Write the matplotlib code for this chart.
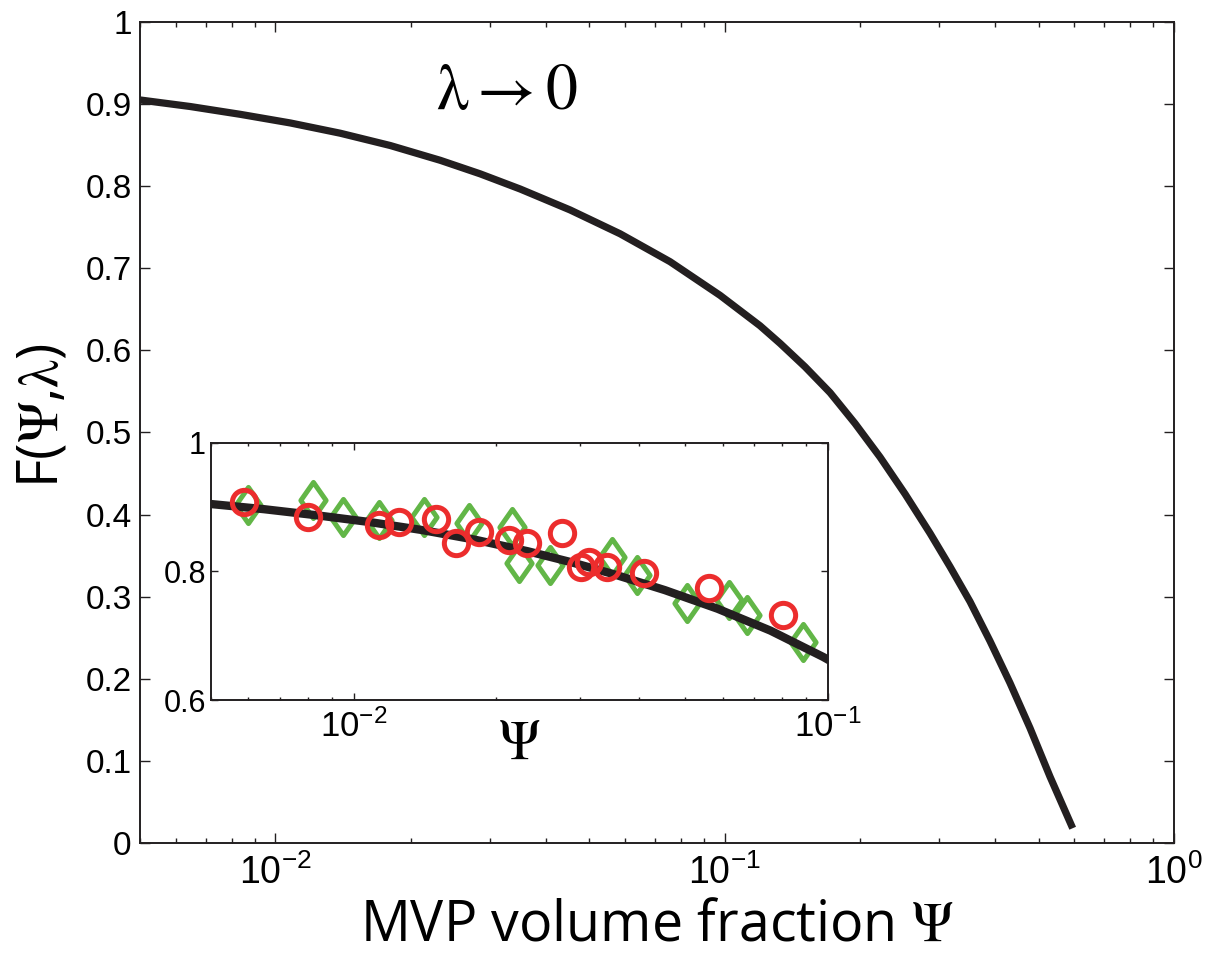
import numpy as np
import matplotlib
matplotlib.use("Agg")
import matplotlib.pyplot as plt
from matplotlib.path import Path
from matplotlib.ticker import LogLocator, FixedLocator, FuncFormatter, NullFormatter

plt.rcParams['mathtext.fontset'] = 'stix'
plt.rcParams['font.family'] = ['Liberation Sans', 'DejaVu Sans']

# main curve F(psi, lambda -> 0)
psi_curve = [0.005, 0.00647, 0.00836, 0.0108, 0.01395, 0.01803, 0.02329, 0.02858,
             0.03509, 0.04532, 0.05854, 0.07563, 0.09772, 0.1199, 0.1329, 0.151,
             0.1717, 0.1951, 0.2218, 0.2522, 0.2866, 0.3175, 0.3517, 0.3896,
             0.4316, 0.4783, 0.5297, 0.5952]
F_curve = [0.905, 0.897, 0.8875, 0.877, 0.8645, 0.8495, 0.8315, 0.815,
           0.7965, 0.771, 0.742, 0.708, 0.667, 0.630, 0.6085, 0.580,
           0.5485, 0.511, 0.470, 0.425, 0.3772, 0.3365, 0.294, 0.246,
           0.195, 0.140, 0.081, 0.018]

# inset data (green diamonds)
psi_green = [0.0060, 0.0082, 0.00948, 0.01132, 0.01408, 0.01751, 0.0216, 0.0223,
             0.02594, 0.0351, 0.0396, 0.0505, 0.0618, 0.0675, 0.0888]
F_green = [0.9035, 0.9113, 0.8853, 0.8802, 0.8853, 0.875, 0.8697, 0.8132,
           0.8101, 0.823, 0.7946, 0.7505, 0.7556, 0.7323, 0.6907]

# inset data (red circles)
psi_red = [0.00589, 0.0080, 0.01132, 0.01247, 0.0149, 0.01641, 0.01838, 0.02126,
           0.02324, 0.02754, 0.0301, 0.0313, 0.03424, 0.0409, 0.05606, 0.0804]
F_red = [0.9086, 0.8853, 0.8724, 0.8775, 0.8812, 0.8439, 0.862, 0.849,
         0.8439, 0.8594, 0.8075, 0.8153, 0.8075, 0.7972, 0.7739, 0.7323]

main_yticks = [0, 0.1, 0.2, 0.3, 0.4, 0.5, 0.6, 0.7, 0.8, 0.9, 1]
inset_yticks = [0.6, 0.8, 1]

curve_color = '#231f20'
green = '#62b647'
red = '#ec2d2d'

diamond = Path([(0, 1), (0.7, 0), (0, -1), (-0.7, 0), (0, 1)],
               [Path.MOVETO, Path.LINETO, Path.LINETO, Path.LINETO, Path.CLOSEPOLY])


def log_label(v, pos):
    return r'$\mathregular{10^{%d}}$' % int(round(np.log10(v)))


def style_axes(ax, size, major_len, minor_len):
    ax.tick_params(which='both', direction='in', top=True, right=True,
                   labelsize=size, width=1.0, color='#231f20')
    ax.tick_params(which='major', length=major_len)
    ax.tick_params(which='minor', length=minor_len)
    for s in ax.spines.values():
        s.set_linewidth(1.4)
        s.set_color('#231f20')


fig = plt.figure(figsize=(12.11, 9.63), dpi=100)

# main plot
ax = fig.add_axes([0.1156, 0.1246, 0.8538, 0.8526])
ax.plot(psi_curve, F_curve, color=curve_color, lw=5.2, solid_capstyle='butt',
        solid_joinstyle='round')
ax.set_xscale('log')
ax.set_xlim(0.005, 1)
ax.set_ylim(0, 1)
ax.xaxis.set_major_locator(FixedLocator([0.01, 0.1, 1]))
ax.xaxis.set_minor_locator(LogLocator(base=10, subs=np.arange(2, 10), numticks=20))
ax.xaxis.set_major_formatter(FuncFormatter(log_label))
ax.xaxis.set_minor_formatter(NullFormatter())
ax.yaxis.set_major_locator(FixedLocator(main_yticks))
ax.yaxis.set_major_formatter(FuncFormatter(lambda v, p: '%g' % v))
style_axes(ax, 24, 7, 3.5)
ax.tick_params(axis='x', labelsize=27, pad=8)
ax.tick_params(axis='y', pad=6)
ax.set_xlabel(r'MVP volume fraction $\Psi$', fontsize=40, family='Open Sans', labelpad=4)
ax.set_ylabel(r'F($\Psi$,$\mathrm{\lambda}$)', fontsize=40, family='Open Sans',
              labelpad=10, y=0.52)
ax.text(0.0327, 0.915, r'$\mathrm{\lambda} \rightarrow 0$', fontsize=46,
        ha='center', va='center')

# inset
ins = fig.add_axes([0.174, 0.2731, 0.5097, 0.2669])
ins.plot(psi_green, F_green, linestyle='none', marker=diamond, ms=26, mew=3.6,
         mfc='none', mec=green)
ins.plot(psi_curve, F_curve, color=curve_color, lw=6, solid_joinstyle='round')
ins.plot(psi_red, F_red, linestyle='none', marker='o', ms=17.5, mew=3.6,
         mfc='none', mec=red)
ins.set_xscale('log')
ins.set_xlim(0.005, 0.1)
ins.set_ylim(0.6, 1)
ins.xaxis.set_major_locator(FixedLocator([0.01, 0.1]))
ins.xaxis.set_minor_locator(LogLocator(base=10, subs=np.arange(2, 10), numticks=20))
ins.xaxis.set_major_formatter(FuncFormatter(log_label))
ins.xaxis.set_minor_formatter(NullFormatter())
ins.yaxis.set_major_locator(FixedLocator(inset_yticks))
ins.yaxis.set_major_formatter(FuncFormatter(lambda v, p: '%g' % v))
style_axes(ins, 22, 5, 2.5)
ins.tick_params(axis='x', labelsize=25, pad=7)
ins.set_xlabel(r'$\Psi$', fontsize=40, labelpad=-18)

fig.savefig('out.png', dpi=100)
